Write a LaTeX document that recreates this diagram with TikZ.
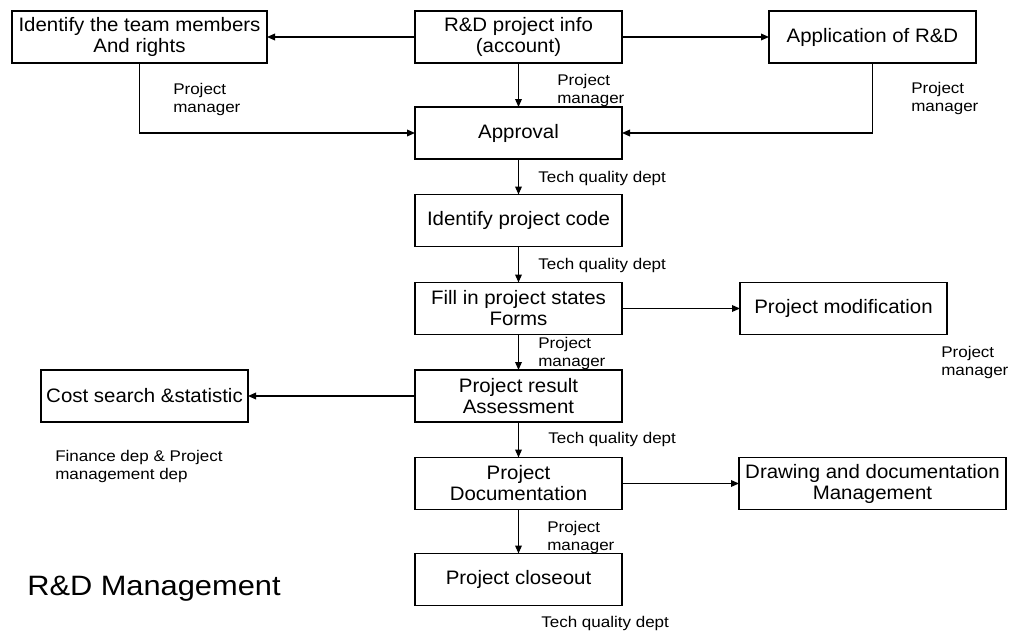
\documentclass[tikz,border=0pt]{standalone}
\usepackage{fontspec}
\setmainfont{Liberation Sans}
\newfontfamily\boxfont{Liberation Sans}[FakeStretch=1.05]
\newfontfamily\tagfont{Liberation Sans}[FakeStretch=1.1]
\newfontfamily\headfont{Liberation Sans}[FakeStretch=1.1]
\usetikzlibrary{arrows.meta}

\begin{document}
\begin{tikzpicture}[x=0.75pt,y=-0.75pt,
  stepbox/.style={draw, line width=0.9pt, minimum width=155.25pt, minimum height=39pt,
    inner sep=2pt, outer sep=0pt, align=center,
    font=\boxfont\fontsize{14.6pt}{15.75pt}\selectfont},
  tag/.style={anchor=north west, inner sep=0pt, align=left,
    font=\tagfont\fontsize{11.6pt}{13.5pt}\selectfont},
  flow/.style={line width=0.9pt, -{Triangle[length=6pt,width=5pt]}}
]
\useasboundingbox (0,0) rectangle (1014,639);

% process boxes
\node[stepbox, minimum width=191.25pt] (team) at (139.5,37) {Identify the team members\\And rights};
\node[stepbox] (info)  at (518.5,37)    {R\&D project info\\(account)};
\node[stepbox] (app)   at (872.5,37)    {Application of R\&D};
\node[stepbox] (appr)  at (518.5,133)   {Approval};
\node[stepbox] (code)  at (518.5,220.5) {Identify project code};
\node[stepbox] (fill)  at (518.5,308.5) {Fill in project states\\Forms};
\node[stepbox] (mod)   at (843.5,308.5) {Project modification};
\node[stepbox] (res)   at (518.5,396)   {Project result\\Assessment};
\node[stepbox] (cost)  at (144.5,396)   {Cost search \&statistic};
\node[stepbox] (doc)   at (518.5,483.5) {Project\\Documentation};
\node[stepbox, minimum width=200.25pt] (dwg) at (872.5,483.5) {Drawing and documentation\\Management};
\node[stepbox] (close) at (518.5,579.5) {Project closeout};

% responsible parties
\node[tag] (pm1) at (173,83)  {Project\\manager};
\node[tag] (pm2) at (557,74)  {Project\\manager};
\node[tag] (pm3) at (911,82)  {Project\\manager};
\node[tag] (tq1) at (538,171) {Tech quality dept};
\node[tag] (tq2) at (538,258) {Tech quality dept};
\node[tag] (pm4) at (538,337) {Project\\manager};
\node[tag] (pm5) at (941,346) {Project\\manager};
\node[tag] (tq3) at (548,432) {Tech quality dept};
\node[tag] (fin) at (55,450)  {Finance dep \& Project\\management dep};
\node[tag] (pm6) at (547,521) {Project\\manager};
\node[tag] (tq4) at (541,616) {Tech quality dept};

% title
\node[anchor=base west, inner sep=0pt, font=\headfont\fontsize{21pt}{25pt}\selectfont]
  (title) at (27,595) {R\&D Management};

% connectors
\draw[flow] (info) -- (team);
\draw[flow] (info) -- (app);
\draw[flow] (info) -- (appr);
\draw[flow] (team.south) |- (appr.west);
\draw[flow] (app.south) |- (appr.east);
\draw[flow] (appr) -- (code);
\draw[flow] (code) -- (fill);
\draw[flow] (fill) -- (mod);
\draw[flow] (fill) -- (res);
\draw[flow] (res) -- (cost);
\draw[flow] (res) -- (doc);
\draw[flow] (doc) -- (dwg);
\draw[flow] (doc) -- (close);
\end{tikzpicture}
\end{document}
